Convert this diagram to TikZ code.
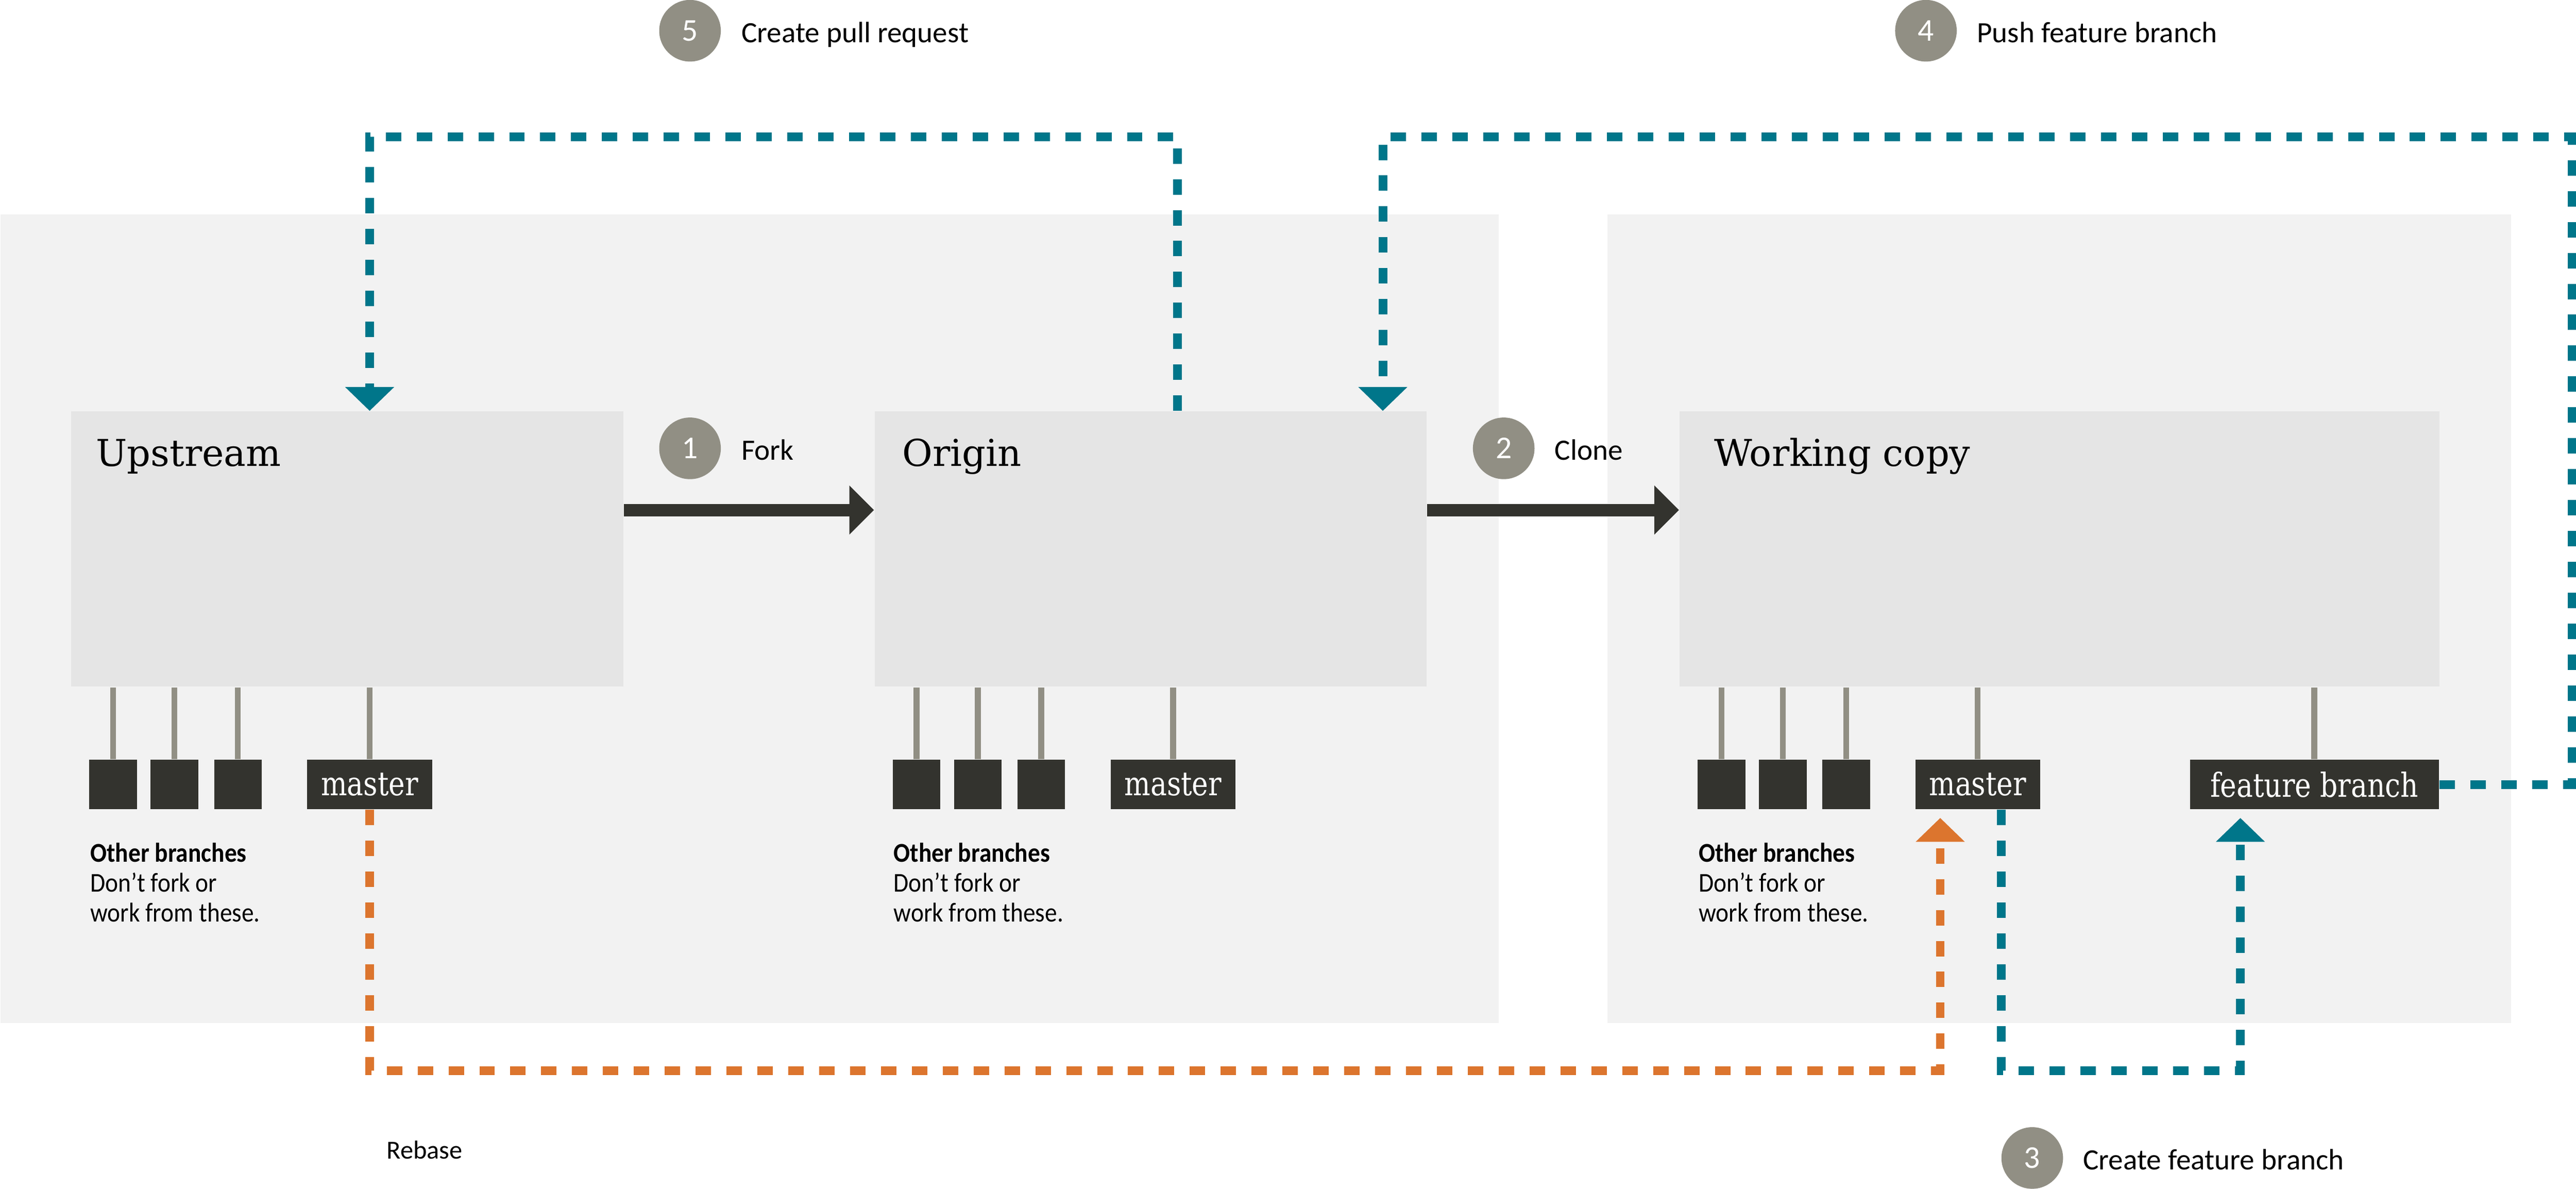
\documentclass[tikz,border=0pt]{standalone}
\usepackage{fontspec}
\setmainfont{Carlito}
\newfontfamily\slabfont{DejaVu Serif}
\newfontfamily\tagfont[FakeStretch=0.83]{DejaVu Serif}
\newfontfamily\notefont[FakeStretch=0.9]{Carlito}
\usetikzlibrary{arrows.meta}
\definecolor{panelgray}{HTML}{F2F2F2}
\definecolor{boxgray}{HTML}{E5E5E5}
\definecolor{darkbox}{HTML}{33332E}
\definecolor{stepgray}{HTML}{918F84}
\definecolor{gitteal}{HTML}{00768A}
\definecolor{gitorange}{HTML}{DC752E}

\tikzset{
  panel/.style={fill=panelgray,inner sep=0pt,anchor=north west,minimum height=98.4mm},
  repo/.style={fill=boxgray,inner sep=0pt,anchor=north west,minimum height=33.5mm},
  repotitle/.style={font=\slabfont\fontsize{12.8}{14}\selectfont,anchor=base west,inner sep=0pt},
  brsq/.style={fill=darkbox,inner sep=0pt,anchor=north,minimum width=5.8mm,minimum height=6mm},
  tag/.style={fill=darkbox,text=white,inner sep=0pt,anchor=north,minimum width=15.2mm,minimum height=6mm,
    font=\tagfont\fontsize{11.5}{12}\selectfont},
  stem/.style={draw=stepgray,line width=0.72mm},
  note/.style={anchor=base west,inner sep=0pt,align=left,font=\notefont\fontsize{9.4}{10.4}\selectfont},
  stepnum/.style={circle,fill=stepgray,text=white,minimum size=7.5mm,inner sep=0pt,font=\fontsize{11}{12}\selectfont},
  steplabel/.style={anchor=base west,inner sep=0pt,font=\fontsize{10.2}{12}\selectfont},
  fatarrow/.style={draw=darkbox,line width=1.52mm,-{Triangle[width=5.8mm,length=3mm]}},
  tealflow/.style={draw=gitteal,line width=1.06mm,dash pattern=on 1.88mm off 1.88mm,
    -{Triangle[width=5.8mm,length=2.9mm]}},
  orangeflow/.style={tealflow,draw=gitorange}
}

\begin{document}
\begin{tikzpicture}[x=0.2mm,y=-0.2mm]
\useasboundingbox (0,0) rectangle (1568,723.4);

% panels
\node[panel,minimum width=182.4mm] (leftpanel) at (0,130) {};
\node[panel,minimum width=110mm] (rightpanel) at (978,130) {};

% repositories
\node[repo,minimum width=67.2mm] (upstream) at (43,250) {};
\node[repo,minimum width=67.2mm] (origin) at (532,250) {};
\node[repo,minimum width=92.5mm] (working) at (1022,250) {};
\node[repotitle] (uptitle) at (58,283.8) {Upstream};
\node[repotitle] (origtitle) at (549,283.8) {Origin};
\node[repotitle] (worktitle) at (1043,283.8) {Working copy};

% upstream branches
\node[brsq] (upsqa) at (68.9,462) {};
\node[brsq] (upsqb) at (106.2,462) {};
\node[brsq] (upsqc) at (144.8,462) {};
\node[tag] (upmaster) at (225,462) {master};
\draw[stem] (upsqa.north) -- (upsqa.north |- upstream.south);
\draw[stem] (upsqb.north) -- (upsqb.north |- upstream.south);
\draw[stem] (upsqc.north) -- (upsqc.north |- upstream.south);
\draw[stem] (upmaster.north) -- (upmaster.north |- upstream.south);
\node[note] (upnote) at (54.6,560.9) {\textbf{Other branches}\\Don’t fork or\\work from these.};

% origin branches
\node[brsq] (origsqa) at (557.9,462) {};
\node[brsq] (origsqb) at (595.2,462) {};
\node[brsq] (origsqc) at (633.8,462) {};
\node[tag] (origmaster) at (714,462) {master};
\draw[stem] (origsqa.north) -- (origsqa.north |- origin.south);
\draw[stem] (origsqb.north) -- (origsqb.north |- origin.south);
\draw[stem] (origsqc.north) -- (origsqc.north |- origin.south);
\draw[stem] (origmaster.north) -- (origmaster.north |- origin.south);
\node[note] (orignote) at (543.6,560.9) {\textbf{Other branches}\\Don’t fork or\\work from these.};

% working copy branches
\node[brsq] (worksqa) at (1047.9,462) {};
\node[brsq] (worksqb) at (1085.2,462) {};
\node[brsq] (worksqc) at (1123.8,462) {};
\node[tag] (workmaster) at (1203.8,462) {master};
\node[tag,minimum width=30.3mm] (feature) at (1408.7,462) {feature branch};
\draw[stem] (worksqa.north) -- (worksqa.north |- working.south);
\draw[stem] (worksqb.north) -- (worksqb.north |- working.south);
\draw[stem] (worksqc.north) -- (worksqc.north |- working.south);
\draw[stem] (workmaster.north) -- (workmaster.north |- working.south);
\draw[stem] (feature.north) -- (feature.north |- working.south);
\node[note] (worknote) at (1033.6,560.9) {\textbf{Other branches}\\Don’t fork or\\work from these.};

% steps
\node[stepnum] (fork) at (420,272.8) {1};
\node[steplabel] (forklabel) at (451,279.8) {Fork};
\node[stepnum] (clone) at (915.3,272.8) {2};
\node[steplabel] (clonelabel) at (946,279.8) {Clone};
\node[stepnum] (branch) at (1237,704.6) {3};
\node[steplabel] (branchlabel) at (1267.6,711.6) {Create feature branch};
\node[stepnum] (push) at (1172.3,18.7) {4};
\node[steplabel] (pushlabel) at (1203,26) {Push feature branch};
\node[stepnum] (pull) at (420,18.7) {5};
\node[steplabel] (pulllabel) at (451,26) {Create pull request};
\node[steplabel,font=\fontsize{9}{11}\selectfont] (rebaselabel) at (235,705) {Rebase};

% flows
\draw[fatarrow] ([yshift=4.75mm]upstream.east) -- ([yshift=4.75mm]origin.west);
\draw[fatarrow] ([yshift=4.75mm]origin.east) -- ([yshift=4.75mm]working.west);

\coordinate (pullcorner) at (716.7,83.3);
\draw[tealflow] (pullcorner |- origin.north) -- (pullcorner) -| (upmaster |- upstream.north);

\coordinate (pushcorner) at (1565.5,83.3);
\draw[tealflow] (feature.east) -| (pushcorner) -| ([xshift=-5.4mm]origin.north east);

\coordinate (featcorner) at (1363.7,651.5);
\draw[tealflow,shorten >=1mm] ([xshift=2.9mm]workmaster.south) |- (featcorner) -- (featcorner |- feature.south);

\coordinate (rebasecorner) at (1181,651.5);
\draw[orangeflow,shorten >=1mm] (upmaster.south) |- (rebasecorner) -- (rebasecorner |- workmaster.south);
\end{tikzpicture}
\end{document}
